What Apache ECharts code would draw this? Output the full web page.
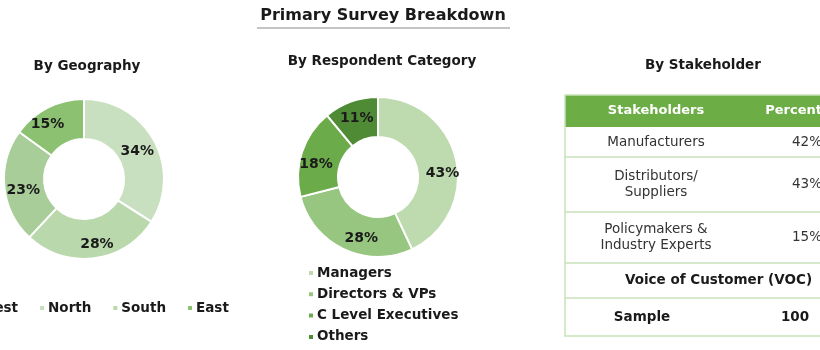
<!DOCTYPE html>
<html>
<head>
<meta charset="utf-8">
<script src="https://cdn.jsdelivr.net/npm/echarts@6/dist/echarts.min.js"></script>
<style>
html,body{margin:0;padding:0;background:#fff;}
#chart{width:820px;height:350px;}
</style>
</head>
<body>
<div id="chart"></div>
<script>
// ---- data ----
const mainTitle = 'Primary Survey Breakdown';
const panelTitles = ['By Geography', 'By Respondent Category', 'By Stakeholder'];

const geoNames = ['North', 'South', 'West', 'East'];
const geoValues = [34, 28, 23, 15];
const geoColors = ['#c9e0c0', '#b9d8ab', '#a8cd98', '#8cc172'];
const geoLegendOrder = ['West', 'North', 'South', 'East'];

const respNames = ['Managers', 'Directors & VPs', 'C Level Executives', 'Others'];
const respValues = [43, 28, 18, 11];
const respColors = ['#bddbae', '#97c680', '#6cab4a', '#4f8b35'];

const tableHeader = ['Stakeholders', 'Percentage'];
const stakeholderNames = ['Manufacturers', 'Distributors/\nSuppliers', 'Policymakers &\nIndustry Experts'];
const stakeholderShares = ['42%', '43%', '15%'];
const vocLabel = 'Voice of Customer (VOC)';
const sampleLabel = 'Sample';
const sampleValue = '100';

// ---- layout ----
const FONT = 'DejaVu Sans';
const tblLeft = 565, tblRight = 872;
const rowEdges = [95, 127, 157, 212, 263, 298, 336];
const col1X = 656, col2X = 807;
const lineColor = '#c8e2ba';
// small label nudges (px) to mimic the original label placement
const geoLabelNudge = [[-2,3],[5,3],[2,5],[-8,1]];
const respLabelNudge = [[3,10],[10,4],[-2,7],[0,1]];

const graphics = [];
// main title + underline
graphics.push({type:'text', style:{text: mainTitle, x:383, y:16, align:'center', verticalAlign:'middle', font:'bold 16px "'+FONT+'"', fill:'#1a1a1a'}});
graphics.push({type:'line', shape:{x1:257, y1:28, x2:510, y2:28}, style:{stroke:'#b0b0b0', lineWidth:1.5}});
const titlePos = [[87,66],[382,61],[703,65]];
panelTitles.forEach((t,i)=>{
  graphics.push({type:'text', style:{text:t, x:titlePos[i][0], y:titlePos[i][1], align:'center', verticalAlign:'middle', font:'bold 13.5px "'+FONT+'"', fill:'#1a1a1a'}});
});
// table
graphics.push({type:'rect', shape:{x:tblLeft, y:rowEdges[0], width:tblRight-tblLeft, height:rowEdges[1]-rowEdges[0]}, style:{fill:'#6dad46'}});
graphics.push({type:'rect', shape:{x:tblLeft, y:rowEdges[0], width:tblRight-tblLeft, height:rowEdges[6]-rowEdges[0]}, style:{fill:'none', stroke:lineColor, lineWidth:1.5}});
for (let r = 2; r < rowEdges.length-1; r++) {
  graphics.push({type:'line', shape:{x1:tblLeft, y1:rowEdges[r], x2:tblRight, y2:rowEdges[r]}, style:{stroke:lineColor, lineWidth:1.5}});
}
const midY = r => (rowEdges[r] + rowEdges[r+1]) / 2;
tableHeader.forEach((h,i)=>{
  graphics.push({type:'text', style:{text:h, x: i===0?col1X:col2X, y: midY(0), align:'center', verticalAlign:'middle', font:'bold 13px "'+FONT+'"', fill:'#ffffff'}});
});
stakeholderNames.forEach((n,i)=>{
  graphics.push({type:'text', style:{text:n, x:col1X, y:midY(i+1), align:'center', verticalAlign:'middle', font:'13.5px "'+FONT+'"', fill:'#333', lineHeight:16}});
  graphics.push({type:'text', style:{text:stakeholderShares[i], x:col2X, y:midY(i+1), align:'center', verticalAlign:'middle', font:'13.5px "'+FONT+'"', fill:'#333'}});
});
graphics.push({type:'text', style:{text:vocLabel, x:(tblLeft+tblRight)/2, y:midY(4), align:'center', verticalAlign:'middle', font:'bold 13.5px "'+FONT+'"', fill:'#1a1a1a'}});
graphics.push({type:'text', style:{text:sampleLabel, x:642, y:midY(5), align:'center', verticalAlign:'middle', font:'bold 13.5px "'+FONT+'"', fill:'#1a1a1a'}});
graphics.push({type:'text', style:{text:sampleValue, x:795, y:midY(5), align:'center', verticalAlign:'middle', font:'bold 13.5px "'+FONT+'"', fill:'#1a1a1a'}});

const labelStyle = {show:true, position:'inside', formatter:'{c}%', color:'#1a1a1a', fontFamily:FONT, fontWeight:'bold', fontSize:14};

const chart = echarts.init(document.getElementById('chart'), null, {renderer:'canvas'});
chart.setOption({
  animation:false,
  backgroundColor:'#fff',
  textStyle:{fontFamily:FONT},
  legend:[
    {orient:'horizontal', left:-35, top:296, icon:'rect', itemWidth:6, itemHeight:6, itemGap:20,
     data: geoLegendOrder, textStyle:{fontFamily:FONT, fontWeight:'bold', fontSize:13.5, color:'#1a1a1a', padding:[0,0,0,-2]}, selectedMode:false},
    {orient:'vertical', left:302, top:261, height:100, icon:'rect', itemWidth:6, itemHeight:6, itemGap:7.3,
     data: respNames, textStyle:{fontFamily:FONT, fontWeight:'bold', fontSize:13.5, color:'#1a1a1a', padding:[0,0,0,-2]}, selectedMode:false}
  ],
  series:[
    {type:'pie', name:'Geography', center:[84,179], radius:[40,80], startAngle:90, clockwise:true,
     itemStyle:{borderColor:'#fff', borderWidth:2}, label:labelStyle, labelLine:{show:false},
     labelLayout: p => ({dx: geoLabelNudge[p.dataIndex][0], dy: geoLabelNudge[p.dataIndex][1]}),
     data: geoNames.map((n,i)=>({name:n, value:geoValues[i], itemStyle:{color:geoColors[i]}}))},
    {type:'pie', name:'Respondent', center:[378,177], radius:[40,80], startAngle:90, clockwise:true,
     itemStyle:{borderColor:'#fff', borderWidth:2}, label:labelStyle, labelLine:{show:false},
     labelLayout: p => ({dx: respLabelNudge[p.dataIndex][0], dy: respLabelNudge[p.dataIndex][1]}),
     data: respNames.map((n,i)=>({name:n, value:respValues[i], itemStyle:{color:respColors[i]}}))}
  ],
  graphic: graphics
});
</script>
</body>
</html>
